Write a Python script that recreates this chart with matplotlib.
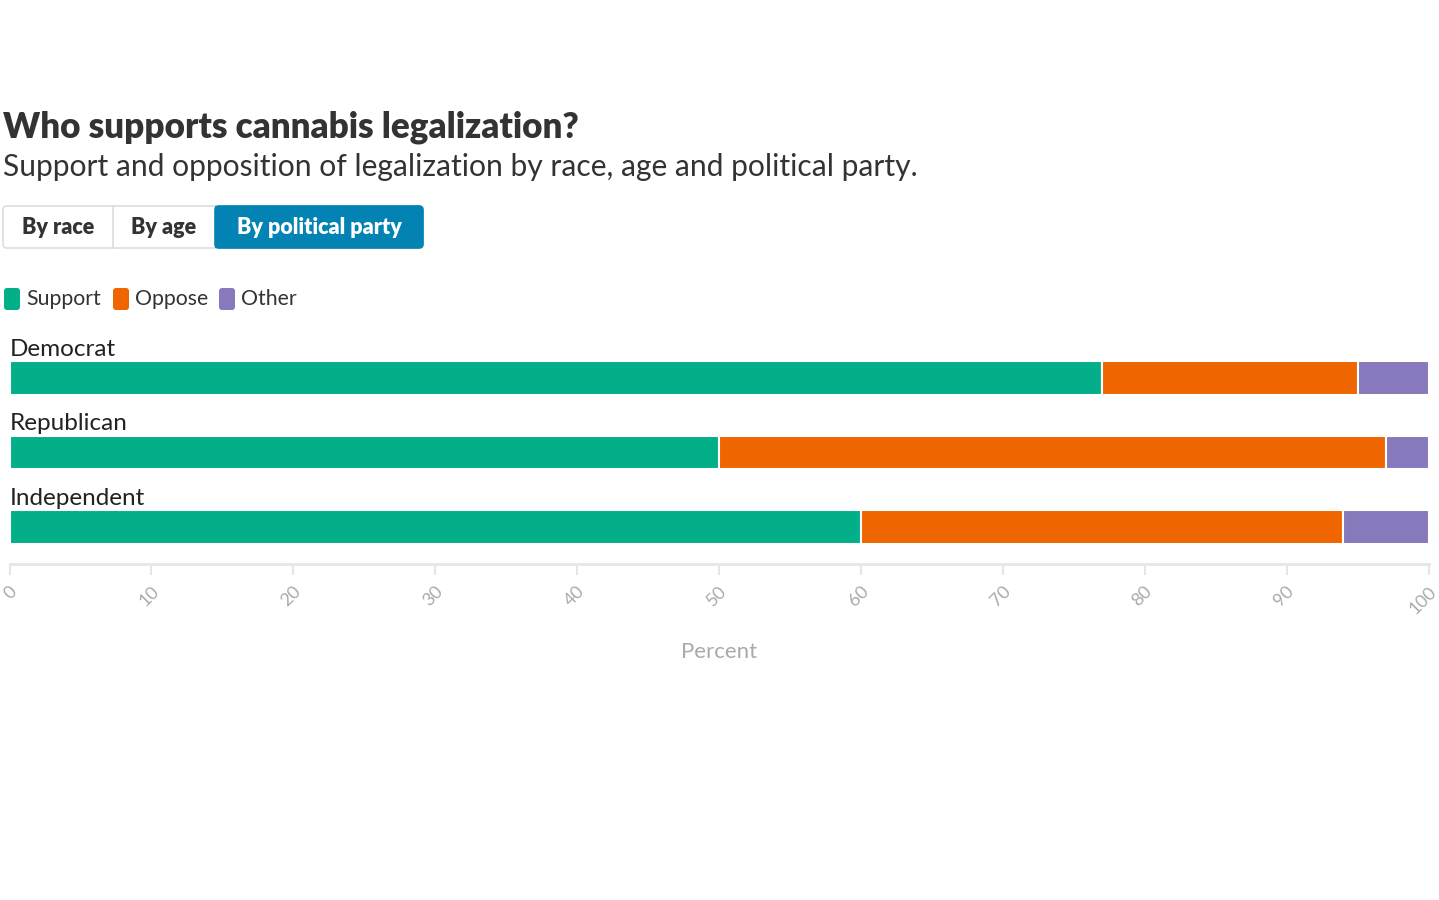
import matplotlib
matplotlib.use("Agg")
import matplotlib.pyplot as plt
import matplotlib.transforms as mtransforms
from matplotlib.patches import FancyBboxPatch, Rectangle

# data
groups = ["Democrat", "Republican", "Independent"]
support = [77, 50, 60]
oppose = [18, 47, 34]
other = [5, 3, 6]
series_names = ["Support", "Oppose", "Other"]
colors = ["#02af89", "#ef6500", "#8878bc"]
ticks = [0, 10, 20, 30, 40, 50, 60, 70, 80, 90, 100]
buttons = ["By race", "By age", "By political party"]

plt.rcParams["font.family"] = ["Lato", "DejaVu Sans"]

W, H = 1439, 900
fig = plt.figure(figsize=(W / 100, H / 100), dpi=100)

# overlay axes in pixel coords for header, buttons and legend
top = fig.add_axes([0, 0, 1, 1])
top.set_xlim(0, W)
top.set_ylim(H, 0)
top.axis("off")

top.text(3, 137, "Who supports cannabis legalization?", fontsize=25.2, fontweight="heavy",
         color="#333333", va="baseline")
top.text(3, 176, "Support and opposition of legalization by race, age and political party.",
         fontsize=21.6, color="#333333", va="baseline")

# buttons
bx = [3, 113, 215, 423]
outer = FancyBboxPatch((bx[0], 206), bx[3] - bx[0], 42, boxstyle="round,pad=0,rounding_size=4",
                       fc="white", ec="#dddddd", lw=1.2)
top.add_patch(outer)
blue = FancyBboxPatch((bx[2], 206), bx[3] - bx[2], 42, boxstyle="round,pad=0,rounding_size=4",
                      fc="#0283b3", ec="#0283b3", lw=1.2)
top.add_patch(blue)
top.add_patch(Rectangle((bx[2], 206), 8, 42, fc="#0283b3", ec="none"))
top.plot([bx[1], bx[1]], [206, 248], color="#dddddd", lw=1.2)
for i, name in enumerate(buttons):
    active = i == 2
    top.text((bx[i] + bx[i + 1]) / 2, 228, name, fontsize=15.5, fontweight="heavy",
             color="white" if active else "#333333", ha="center", va="center")

# legend
lx = [4, 113, 219]
for x, name, c in zip(lx, series_names, colors):
    top.add_patch(FancyBboxPatch((x, 288), 16, 22, boxstyle="round,pad=0,rounding_size=3",
                                 fc=c, ec="none"))
    top.text(x + 22, 299, name, fontsize=15.3, color="#333333", va="center")

# bars
ax = fig.add_axes([9.5 / W, 1 - 564 / H, 1419 / W, 234 / H])
ax.set_zorder(2)
ax.patch.set_alpha(0)
y = list(range(len(groups)))
left2 = [s + o for s, o in zip(support, oppose)]
bh = 0.45
ax.barh(y, support, height=bh, color=colors[0], edgecolor="white", lw=1.5)
ax.barh(y, oppose, left=support, height=bh, color=colors[1], edgecolor="white", lw=1.5)
ax.barh(y, other, left=left2, height=bh, color=colors[2], edgecolor="white", lw=1.5)

for i, g in enumerate(groups):
    ax.text(0.05, i - bh / 2 - 0.02, g, fontsize=17.5, color="#222222", va="bottom", ha="left")

ax.set_xlim(0, 100)
ax.set_ylim(2.497, -0.644)
ax.set_yticks([])
for s in ["top", "left", "right"]:
    ax.spines[s].set_visible(False)
ax.spines["bottom"].set_color("#e6e6e6")
ax.spines["bottom"].set_linewidth(2)
ax.set_xticks(ticks)
ax.set_xticklabels([str(t) for t in ticks], rotation=45, ha="right", va="center",
                   rotation_mode="anchor", fontsize=13, color="#aaaaaa")
ax.tick_params(axis="x", length=8, width=1.5, color="#e6e6e6", pad=10)
shift = mtransforms.ScaledTranslation(5 / 100, 0, fig.dpi_scale_trans)
for lab in ax.get_xticklabels():
    lab.set_transform(lab.get_transform() + shift)
ax.set_xlabel("Percent", fontsize=16, color="#aaaaaa", labelpad=18)

fig.savefig("out.png", dpi=100)
